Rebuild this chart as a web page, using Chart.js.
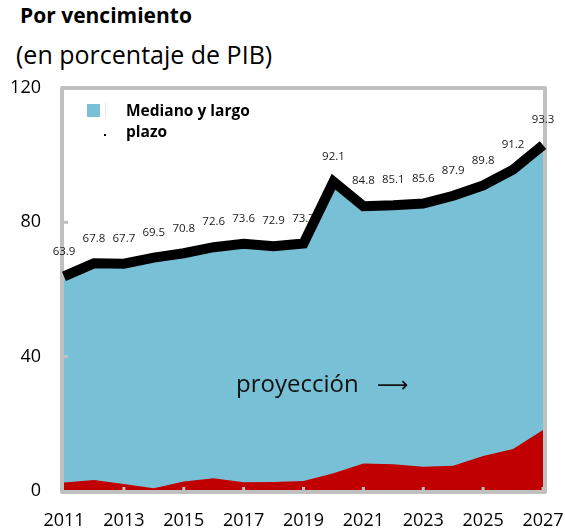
<!DOCTYPE html>
<html>
<head>
<meta charset="utf-8">
<script src="https://cdn.jsdelivr.net/npm/chart.js@4/dist/chart.umd.min.js"></script>
<style>
  html, body { margin: 0; padding: 0; background: #fff; }
  #wrap { position: relative; width: 565px; height: 531px; }
  #chart { position: absolute; left: 0; top: 0; }
  .title { position: absolute; left: 20px; top: 5px; font: bold 21px "Open Sans", sans-serif; line-height: 1; color: #000; }
  .sub { position: absolute; left: 16px; top: 42px; font: 25px "Open Sans", sans-serif; line-height: 1; color: #000; }
</style>
</head>
<body>
<div id="wrap">
  <div class="title">Por vencimiento</div>
  <div class="sub">(en porcentaje de PIB)</div>
  <canvas id="chart" width="565" height="531"></canvas>
</div>
<script>
// Years on the x axis
var years = ['2011','2012','2013','2014','2015','2016','2017','2018','2019',
             '2020','2021','2022','2023','2024','2025','2026','2027'];

// Total debt line (top of the blue area)
var totalValues = [63.9, 67.8, 67.7, 69.5, 70.8, 72.6, 73.6, 72.9, 73.7,
                   92.1, 84.8, 85.1, 85.6, 87.9, 91.0, 95.7, 103.0];

// Short term part (red area)
var shortValues = [2.5, 3.3, 2.1, 0.8, 2.8, 3.8, 2.6, 2.7, 3.0,
                   5.3, 8.2, 8.0, 7.2, 7.5, 10.4, 12.5, 18.2];

// Labels printed above the line
var pointLabels = ['63.9','67.8','67.7','69.5','70.8','72.6','73.6','72.9','73.7',
                   '92.1','84.8','85.1','85.6','87.9','89.8','91.2','93.3'];

var yTicks = [0, 40, 80, 120];

var FONT = '"Open Sans", sans-serif';

// After the red area: grey frame, then value labels, so the black line covers both
var labelsPlugin = {
    id: 'pointLabels',
    afterDatasetDraw: function(chart, args) {
        if (args.index !== 1) return;
        var ctx = chart.ctx;
        var a = chart.chartArea;
        ctx.save();
        ctx.strokeStyle = '#c0c0c0';
        ctx.lineWidth = 4;
        ctx.lineJoin = 'round';
        ctx.strokeRect(a.left - 2, a.top, a.right - a.left + 4, a.bottom - a.top + 1);

        var meta = chart.getDatasetMeta(0);
        ctx.font = '11.5px ' + FONT;
        ctx.fillStyle = '#1a1a1a';
        ctx.textAlign = 'center';
        ctx.textBaseline = 'middle';
        meta.data.forEach(function(pt, i) {
            ctx.fillText(pointLabels[i], pt.x, pt.y - 25);
        });
        ctx.restore();
    }
};

// Tick stubs, legend and the "proyección" note
var notesPlugin = {
    id: 'notes',
    afterDatasetsDraw: function(chart) {
        var ctx = chart.ctx;
        var a = chart.chartArea;
        var xs = chart.scales.x, ys = chart.scales.y;
        ctx.save();

        // projection note
        ctx.fillStyle = '#111';
        ctx.font = '24px ' + FONT;
        ctx.textBaseline = 'middle';
        ctx.textAlign = 'left';
        ctx.fillText('proyección', 236, 385);
        ctx.font = '22px "DejaVu Sans", sans-serif';
        ctx.fillText('\u27F6', 377, 386);

        // tick stubs
        ctx.strokeStyle = '#c0c0c0';
        ctx.lineWidth = 3;
        yTicks.slice(1, 3).forEach(function(v) {
            var y = ys.getPixelForValue(v);
            ctx.beginPath();
            ctx.moveTo(a.left, y);
            ctx.lineTo(a.left + 4, y);
            ctx.stroke();
        });
        for (var i = 2; i < years.length; i += 2) {
            var x = xs.getPixelForValue(i);
            ctx.beginPath();
            ctx.moveTo(x, a.bottom);
            ctx.lineTo(x, a.bottom - 4);
            ctx.stroke();
        }

        // legend
        ctx.fillStyle = '#78c0d6';
        ctx.fillRect(87, 104, 13, 13);
        ctx.fillStyle = '#e6e6e6';
        ctx.fillRect(105, 103, 1, 15);
        ctx.fillStyle = '#000';
        ctx.fillRect(104, 134, 2, 2);
        ctx.font = 'bold 15.5px ' + FONT;
        ctx.textBaseline = 'middle';
        ctx.fillText('Mediano y largo', 126, 112);
        ctx.fillText('plazo', 126, 133);
        ctx.restore();
    }
};

var ctx = document.getElementById('chart').getContext('2d');
var chart = new Chart(ctx, {
    type: 'line',
    data: {
        labels: years,
        datasets: [{
            label: 'Total',
            data: totalValues,
            borderColor: '#000',
            borderWidth: 10,
            pointRadius: 0,
            fill: false,
            tension: 0
        }, {
            label: 'Corto plazo',
            data: shortValues,
            borderWidth: 0,
            pointRadius: 0,
            backgroundColor: '#c00000',
            fill: 'origin',
            tension: 0
        }, {
            label: 'Mediano y largo plazo',
            data: totalValues,
            borderWidth: 0,
            pointRadius: 0,
            backgroundColor: '#78c0d6',
            fill: 'origin',
            tension: 0
        }]
    },
    options: {
        responsive: false,
        animation: false,
        devicePixelRatio: 1,
        layout: { padding: { top: 88, right: 22, left: 0, bottom: 0 } },
        plugins: {
            legend: { display: false },
            tooltip: { enabled: false }
        },
        scales: {
            x: {
                offset: false,
                grid: { display: false },
                border: { display: false },
                afterFit: function(s) {
                    s.height = 40;
                    s.paddingLeft = 0;
                    s.paddingRight = 0;
                },
                ticks: {
                    autoSkip: false,
                    maxRotation: 0,
                    padding: 11,
                    color: '#000',
                    font: { family: FONT, size: 18 },
                    callback: function(v, i) { return i % 2 === 0 ? years[i] : ''; }
                }
            },
            y: {
                min: 0,
                max: 120,
                grid: { display: false, drawTicks: false },
                border: { display: false },
                afterFit: function(s) { s.width = 64; },
                afterBuildTicks: function(s) {
                    s.ticks = yTicks.map(function(v) { return { value: v }; });
                },
                ticks: {
                    padding: 23,
                    color: '#000',
                    font: { family: FONT, size: 18 }
                }
            }
        }
    },
    plugins: [labelsPlugin, notesPlugin]
});
</script>
</body>
</html>
